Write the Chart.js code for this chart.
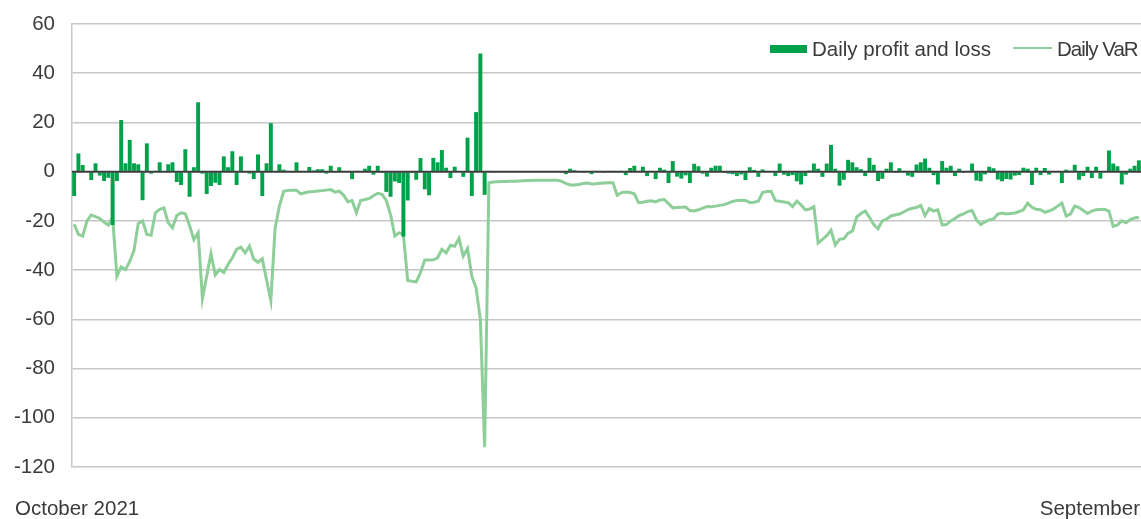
<!DOCTYPE html>
<html>
<head>
<meta charset="utf-8">
<script src="https://cdn.jsdelivr.net/npm/chart.js@4.4.1/dist/chart.umd.min.js"></script>
<style>
    html, body { margin: 0; padding: 0; background: #fff; overflow: hidden; }
    #wrap { position: relative; width: 1141px; height: 519px; }
    .txt { position: absolute; font-family: "Liberation Sans", Arial, sans-serif; font-size: 20.5px; line-height: 20.5px; color: #3a3a3a; white-space: nowrap; }
    .swatch { position: absolute; }
</style>
</head>
<body>
<div id="wrap">
    <canvas id="pnlChart"></canvas>
    <div class="swatch" style="left:770px; top:45px; width:37px; height:8px; background:#00a14b;"></div>
    <div class="txt" style="left:812px; top:38.6px;">Daily profit and loss</div>
    <div class="swatch" style="left:1013px; top:47px; width:39px; height:0; border-top:2.5px solid #8fcf9b;"></div>
    <div class="txt" style="left:1057px; top:38.6px; letter-spacing:-1px;">Daily VaR</div>
    <div class="txt" id="xFirst" style="left:15px; top:497.6px;"></div>
    <div class="txt" id="xLast" style="right:1px; top:497.6px;"></div>
</div>
<script>
// Daily profit and loss, one value per trading day
const pnl = [
    -9.9, 7.4, 2.7, 0.3, -3.4, 3.4, -1.6, -3.8, -2.5, -21.7,
    -3.8, 21, 3.4, 12.9, 3.4, 3, -11.6, 11.5, -0.8, 0.2,
    3.8, 0.3, 3, 3.8, -4.2, -5.4, 9.1, -10.2, 1.8, 28.2,
    -0.8, -9.1, -5.8, -4.5, -5.4, 6.2, 1.8, 8.3, -5.4, 6.2,
    -0.4, -0.8, -3, 7, -9.9, 3.4, 19.7, 0.2, 3, 0.8,
    0.2, -0.2, 3.8, 0.2, 0.3, 1.9, 0.5, 1, 1, -0.8,
    2.4, -0.4, 1.8, 0.2, -0.2, -3, 0.2, 0.3, 1.2, 2.4,
    -1.2, 2.4, -0.5, -8.2, -10.2, -4, -4.6, -26.4, -11.7, -0.5,
    -3.3, 5.5, -7.2, -9.6, 5.6, 3.8, 8.8, 1.6, -2.6, 2,
    -0.3, -2.1, 13.8, -9.9, 24.2, 48, -9.4, 0.1, -0.1, 0.3,
    0, 0, 0, 0, 0, 0, 0, 0, 0, 0,
    0, 0, 0, 0, -0.4, -1, 1.2, 0.6, 0.1, -0.1,
    0.1, -1, 0.1, 0.2, -0.5, 0.1, 0.1, -0.4, 0.2, -1.4,
    1.5, 2.4, 0.1, 2, -1.8, 0.2, -3, 1.6, 0.8, -4.6,
    4.3, -2, -2.8, -1.5, -4.6, 3.2, 2.2, -0.8, -2, 1.6,
    2.4, 2.4, -0.5, -0.8, -1, -1.8, -1.1, -3.4, 1.8, 0.7,
    -2.1, 0.9, 0.2, 0, -1.8, 3.3, -1.2, -1.8, -1.4, -3.9,
    -5.2, -1.8, 0.5, 3.3, 1.2, -2.1, 3.3, 10.9, 1.2, -5.7,
    -3.3, 4.8, 3.8, 1.8, 1, -1.8, 5.6, 2.8, -3.8, -2.9,
    1.2, 3.8, -0.5, 1.4, 0.1, -1.6, -2.1, 2.9, 3.8, 5.3,
    1.6, -1.4, -5.2, 4.3, 1.6, 2.4, -1.8, 1.2, -0.5, 0.1,
    3.3, -3.6, -3.9, -1.1, 2, 1.4, -3.2, -3.9, -3, -3.2,
    -1.6, -1.4, 1.6, 1.2, -5.4, 1.6, -1.4, 1.5, -1.2, 0.3,
    0.1, -4.6, 0.8, 0.4, 2.8, -3.3, -1.8, 2, -2.6, 2,
    -2.8, 0.1, 8.6, 3.3, 2.2, -5.2, -1.2, 1.2, 2.4, 4.6
];

// Daily VaR, same days
const dailyVar = [
    -21.4, -25.5, -26.2, -20, -17.6, -18.3, -19, -20.5, -21.7, -18.5,
    -42.5, -38.7, -39.8, -36.5, -32, -21, -20, -25.5, -25.8, -16.7,
    -15.3, -14.7, -20.8, -22.8, -17.8, -16.7, -17.1, -22, -27.6, -24.8,
    -51.6, -42.5, -33.3, -42, -39.8, -41, -37.7, -35, -31.6, -30.7,
    -33, -30.3, -35.5, -36.8, -35.4, -44, -52.4, -23, -14, -8,
    -7.6, -7.5, -7.5, -9, -8.6, -8.2, -8.1, -7.9, -7.7, -7.5,
    -7.3, -8.3, -7.9, -9.5, -12.2, -11.7, -16.7, -11.7, -11.3, -10.9,
    -9.8, -8.8, -9.2, -11.7, -17.4, -26.2, -24.8, -25.5, -44.2, -44.5,
    -44.8, -41, -35.9, -35.9, -35.8, -35, -31.6, -33, -29.9, -30.3,
    -27.1, -34.3, -31.2, -42.5, -47.2, -60, -112, -4.5, -4.2, -4.1,
    -4, -4, -3.9, -3.9, -3.8, -3.7, -3.6, -3.6, -3.5, -3.5,
    -3.5, -3.5, -3.5, -3.5, -3.9, -4.8, -5.4, -5.4, -5.2, -4.8,
    -4.6, -5, -4.9, -4.7, -4.6, -4.5, -4.5, -9.6, -8.5, -8.3,
    -8.5, -9, -12.6, -12.4, -12, -11.8, -12.3, -11.5, -11.3, -13,
    -14.7, -14.6, -14.5, -14.4, -15.8, -16, -15.5, -14.8, -14.2, -14.3,
    -14, -13.7, -13.4, -12.8, -12.1, -11.7, -11.6, -11.7, -12.5, -12.4,
    -12, -8.5, -8.1, -8, -11.8, -12, -12.3, -12.6, -14.2, -12,
    -13.5, -15.5, -15.2, -14.2, -29, -27.5, -26, -23.8, -29.8, -27.5,
    -27.2, -25, -24.2, -18.5, -17, -16, -18.5, -21.5, -23.2, -20,
    -19.3, -18, -17.6, -17.2, -16.4, -15.4, -14.9, -14.6, -13.7, -17.8,
    -15, -16, -15.5, -21.6, -21.5, -20, -19, -17.8, -17.2, -16.2,
    -15.8, -19.5, -21.5, -20.4, -19.6, -19.2, -17.2, -16.8, -17.2, -17,
    -16.8, -16.2, -15.5, -12.8, -14.5, -15.3, -15.5, -16.5, -16, -15.2,
    -14, -12.8, -18, -17.2, -14, -14.6, -15.8, -17, -16, -15.5,
    -15.4, -15.3, -16, -22.2, -21.6, -20, -20.8, -19.5, -18.8, -18.5
];

// Axis text
const yTicks = [60, 40, 20, 0, -20, -40, -60, -80, -100, -120];
const xEdgeLabels = ['October 2021', 'September'];
const seriesNames = ['Daily profit and loss', 'Daily VaR'];

// Trading days from 1 October 2021 (weekdays only)
const days = [];
const d = new Date(2021, 9, 1);
while (days.length < pnl.length) {
    if (d.getDay() !== 0 && d.getDay() !== 6) {
        days.push(d.toLocaleDateString('en-GB'));
    }
    d.setDate(d.getDate() + 1);
}

document.getElementById('xFirst').textContent = xEdgeLabels[0];
document.getElementById('xLast').textContent = xEdgeLabels[1];

// Dark zero line drawn on top of the bars
const zeroLine = {
    id: 'zeroLine',
    afterDatasetsDraw(chart) {
        const area = chart.chartArea;
        const y = chart.scales.y.getPixelForValue(0);
        const ctx = chart.ctx;
        ctx.save();
        ctx.strokeStyle = '#3b3b3b';
        ctx.lineWidth = 2;
        ctx.beginPath();
        ctx.moveTo(area.left, y);
        ctx.lineTo(area.right, y);
        ctx.stroke();
        ctx.restore();
    }
};

const font = { family: '"Liberation Sans", Arial, sans-serif', size: 20.5 };

new Chart(document.getElementById('pnlChart'), {
    type: 'bar',
    data: {
        labels: days,
        datasets: [{
            type: 'line',
            label: seriesNames[1],
            data: dailyVar,
            borderColor: '#8dce99',
            borderWidth: 3,
            pointRadius: 0,
            tension: 0,
            order: 2
        }, {
            label: seriesNames[0],
            data: pnl,
            backgroundColor: '#00a14b',
            barPercentage: 0.92,
            categoryPercentage: 1,
            order: 1
        }]
    },
    options: {
        responsive: true,
        maintainAspectRatio: false,
        animation: false,
        layout: { padding: { top: 24, bottom: 52, left: 0, right: 0 } },
        plugins: {
            legend: { display: false },
            tooltip: { enabled: false }
        },
        scales: {
            x: {
                display: false
            },
            y: {
                min: -120,
                max: 60,
                afterBuildTicks: function(scale) {
                    scale.ticks = yTicks.map(function(v) { return { value: v }; });
                },
                afterFit: function(scale) {
                    scale.width = 72;
                    // the plot top/bottom come from the layout padding only
                    scale.paddingTop = 0;
                    scale.paddingBottom = 0;
                },
                border: { display: true, color: '#c6c6c6', width: 1.5 },
                grid: {
                    color: function(ctx) {
                        return ctx.tick && ctx.tick.value === 0 ? 'rgba(0,0,0,0)' : '#c6c6c6';
                    },
                    lineWidth: 1.5,
                    drawTicks: false
                },
                ticks: {
                    color: '#3a3a3a',
                    font: font,
                    padding: 17
                }
            }
        }
    },
    plugins: [zeroLine]
});
</script>
</body>
</html>
